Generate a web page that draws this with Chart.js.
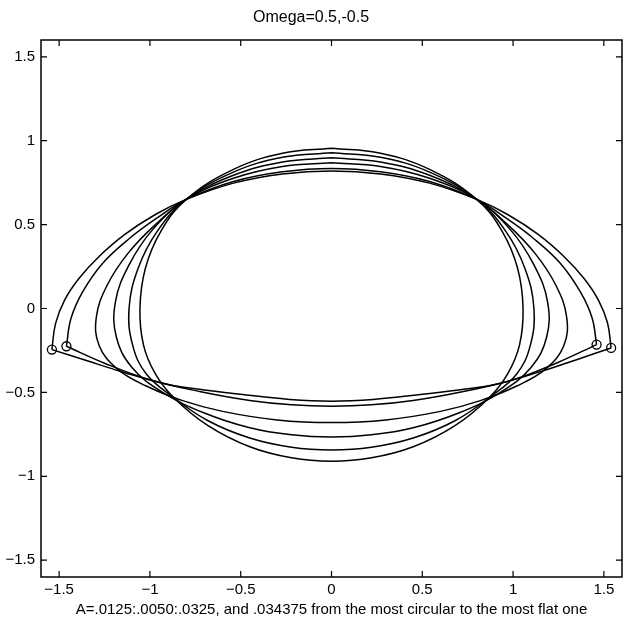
<!DOCTYPE html>
<html>
<head>
<meta charset="utf-8">
<script src="https://cdn.jsdelivr.net/npm/chart.js@4.4.0/dist/chart.umd.min.js"></script>
<style>
  html, body { margin: 0; padding: 0; background: #fff; }
</style>
</head>
<body>
<canvas id="orbitChart" width="624" height="624"></canvas>
<script>
// closed curves, from the most circular (A=.0125) to the most flat (A=.034375)
var curveA0125 = [[0,0.955],[-0.27,0.925],[-0.54,0.829],[-0.8,0.65],[-0.94,0.46],[-1.025,0.24],[-1.055,0.0],[-1.035,-0.22],[-0.97,-0.39],[-0.87,-0.53],[-0.68,-0.698],[-0.45,-0.824],[-0.22,-0.89],[0,-0.91],
                  [0.22,-0.89],[0.45,-0.824],[0.68,-0.698],[0.87,-0.53],[0.97,-0.39],[1.035,-0.22],[1.055,0.0],[1.025,0.24],[0.94,0.46],[0.8,0.65],[0.54,0.829],[0.27,0.925],[0,0.955]];
var curveA0175 = [[0,0.928],[-0.27,0.901],[-0.54,0.813],[-0.8,0.65],[-0.96,0.46],[-1.065,0.24],[-1.115,0.0],[-1.095,-0.22],[-1.02,-0.39],[-0.87,-0.53],[-0.68,-0.669],[-0.45,-0.772],[-0.22,-0.827],[0,-0.843],
                  [0.22,-0.827],[0.45,-0.772],[0.68,-0.669],[0.87,-0.53],[1.02,-0.39],[1.095,-0.22],[1.115,0.0],[1.065,0.24],[0.96,0.46],[0.8,0.65],[0.54,0.813],[0.27,0.901],[0,0.928]];
var curveA0225 = [[0,0.898],[-0.27,0.873],[-0.54,0.794],[-0.8,0.65],[-0.985,0.47],[-1.115,0.26],[-1.19,0.04],[-1.185,-0.17],[-1.1,-0.35],[-0.93,-0.5],[-0.7,-0.623],[-0.45,-0.711],[-0.22,-0.753],[0,-0.766],
                  [0.22,-0.753],[0.45,-0.711],[0.7,-0.623],[0.93,-0.5],[1.1,-0.35],[1.185,-0.17],[1.19,0.04],[1.115,0.26],[0.985,0.47],[0.8,0.65],[0.54,0.794],[0.27,0.873],[0,0.898]];
var curveA0275 = [[0,0.868],[-0.27,0.846],[-0.54,0.776],[-0.8,0.65],[-0.97,0.5],[-1.12,0.33],[-1.235,0.14],[-1.295,-0.05],[-1.28,-0.22],[-1.18,-0.36],[-1.02,-0.462],[-0.82,-0.549],[-0.6,-0.613],[-0.3,-0.664],[0,-0.68],
                  [0.3,-0.664],[0.6,-0.613],[0.82,-0.549],[1.02,-0.462],[1.18,-0.36],[1.28,-0.22],[1.295,-0.05],[1.235,0.14],[1.12,0.33],[0.97,0.5],[0.8,0.65],[0.54,0.776],[0.27,0.846],[0,0.868]];
// the two flattest ones have a corner at their start point, so upper and lower parts
var upperA0325 = [[-1.46,-0.225],[-1.435,-0.06],[-1.37,0.1],[-1.26,0.27],[-1.11,0.42],[-0.96,0.54],[-0.8,0.65],[-0.54,0.757],[-0.27,0.815],[0,0.835],
                  [0.27,0.815],[0.54,0.757],[0.8,0.65],[0.96,0.54],[1.11,0.42],[1.26,0.27],[1.37,0.1],[1.435,-0.055],[1.46,-0.215]];
var lowerA0325 = [[1.46,-0.215],[1.25,-0.32],[1.0,-0.425],[0.72,-0.496],[0.45,-0.548],[0.22,-0.574],[0,-0.582],[-0.22,-0.574],[-0.45,-0.548],[-0.72,-0.496],[-1.0,-0.425],[-1.25,-0.326],[-1.46,-0.225]];
var upperA034375 = [[-1.54,-0.245],[-1.52,-0.09],[-1.47,0.05],[-1.39,0.18],[-1.28,0.31],[-1.14,0.44],[-0.97,0.56],[-0.8,0.65],[-0.54,0.747],[-0.27,0.802],[0,0.82],
                    [0.27,0.802],[0.54,0.747],[0.8,0.65],[0.97,0.56],[1.14,0.44],[1.28,0.31],[1.39,0.18],[1.47,0.05],[1.52,-0.085],[1.54,-0.235]];
var lowerA034375 = [[1.54,-0.235],[1.35,-0.305],[1.16,-0.373],[0.905,-0.452],[0.7,-0.485],[0.47,-0.515],[0.23,-0.542],[0,-0.552],[-0.23,-0.542],[-0.47,-0.515],[-0.7,-0.485],[-0.905,-0.452],[-1.16,-0.375],[-1.35,-0.31],[-1.54,-0.245]];
var startMarks = [[-1.54,-0.245],[-1.46,-0.225],[1.46,-0.215],[1.54,-0.235]];
var tickValues = [-1.5, -1, -0.5, 0, 0.5, 1, 1.5];

var FONT = "'Liberation Sans', Arial, Helvetica, sans-serif";

function toPts(arr) {
  return arr.map(function(p) { return { x: p[0], y: p[1] }; });
}

function curveSet(arr) {
  return {
    data: toPts(arr),
    showLine: true,
    borderColor: "#000",
    borderWidth: 1.5,
    tension: 0.4,
    pointRadius: 0,
    fill: false
  };
}

function minusLabel(v) {
  var s = String(v);
  return s.charAt(0) === "-" ? "\u2212" + s.slice(1) : s;
}

// box round the axes with inward ticks on all four sides
var boxTicks = {
  id: "boxTicks",
  afterDatasetsDraw: function(chart) {
    var ctx = chart.ctx, a = chart.chartArea;
    var xs = chart.scales.x, ys = chart.scales.y;
    ctx.save();
    ctx.strokeStyle = "#000";
    ctx.lineWidth = 1.5;
    ctx.strokeRect(a.left, a.top, a.right - a.left, a.bottom - a.top);
    ctx.lineWidth = 1.2;
    ctx.beginPath();
    tickValues.forEach(function(v) {
      var px = xs.getPixelForValue(v), py = ys.getPixelForValue(v);
      ctx.moveTo(px, a.bottom); ctx.lineTo(px, a.bottom - 6);
      ctx.moveTo(px, a.top); ctx.lineTo(px, a.top + 6);
      ctx.moveTo(a.left, py); ctx.lineTo(a.left + 6, py);
      ctx.moveTo(a.right, py); ctx.lineTo(a.right - 6, py);
    });
    ctx.stroke();
    ctx.restore();
  }
};

var fixedTicks = function(scale) {
  scale.ticks = tickValues.map(function(v) { return { value: v }; });
};

new Chart(document.getElementById("orbitChart"), {
  type: "scatter",
  data: {
    datasets: [
      curveSet(curveA0125),
      curveSet(curveA0175),
      curveSet(curveA0225),
      curveSet(curveA0275),
      curveSet(upperA0325),
      curveSet(lowerA0325),
      curveSet(upperA034375),
      curveSet(lowerA034375),
      {
        data: toPts(startMarks),
        showLine: false,
        pointStyle: "circle",
        pointRadius: 4.5,
        pointBorderWidth: 1.3,
        pointBorderColor: "#000",
        pointBackgroundColor: "rgba(0,0,0,0)"
      }
    ]
  },
  options: {
    responsive: false,
    animation: false,
    layout: { autoPadding: false, padding: { left: 0, right: 2, top: 0, bottom: 0 } },
    plugins: {
      legend: { display: false },
      tooltip: { enabled: false },
      title: {
        display: true,
        text: "Omega=0.5,-0.5",
        color: "#000",
        font: { family: FONT, size: 16, weight: "normal" },
        padding: { top: 8, bottom: 12.8 }
      }
    },
    scales: {
      x: {
        type: "linear",
        min: -1.6,
        max: 1.6,
        afterBuildTicks: fixedTicks,
        afterFit: function(scale) {
          scale.height = 47;
          scale.paddingLeft = 0;
          scale.paddingRight = 0;
        },
        grid: { display: false, drawTicks: false },
        border: { display: false },
        ticks: {
          color: "#000",
          padding: 4,
          maxRotation: 0,
          font: { family: FONT, size: 15 },
          callback: minusLabel
        },
        title: {
          display: true,
          text: "A=.0125:.0050:.0325, and .034375 from the most circular to the most flat one",
          color: "#000",
          font: { family: FONT, size: 15 },
          padding: { top: 0, bottom: 5 }
        }
      },
      y: {
        type: "linear",
        min: -1.6,
        max: 1.6,
        afterBuildTicks: fixedTicks,
        afterFit: function(scale) {
          scale.width = 41;
          scale.paddingTop = 0;
          scale.paddingBottom = 0;
        },
        grid: { display: false, drawTicks: false },
        border: { display: false },
        ticks: {
          color: "#000",
          padding: 6,
          font: { family: FONT, size: 15 },
          callback: minusLabel
        }
      }
    }
  },
  plugins: [boxTicks]
});
</script>
</body>
</html>
